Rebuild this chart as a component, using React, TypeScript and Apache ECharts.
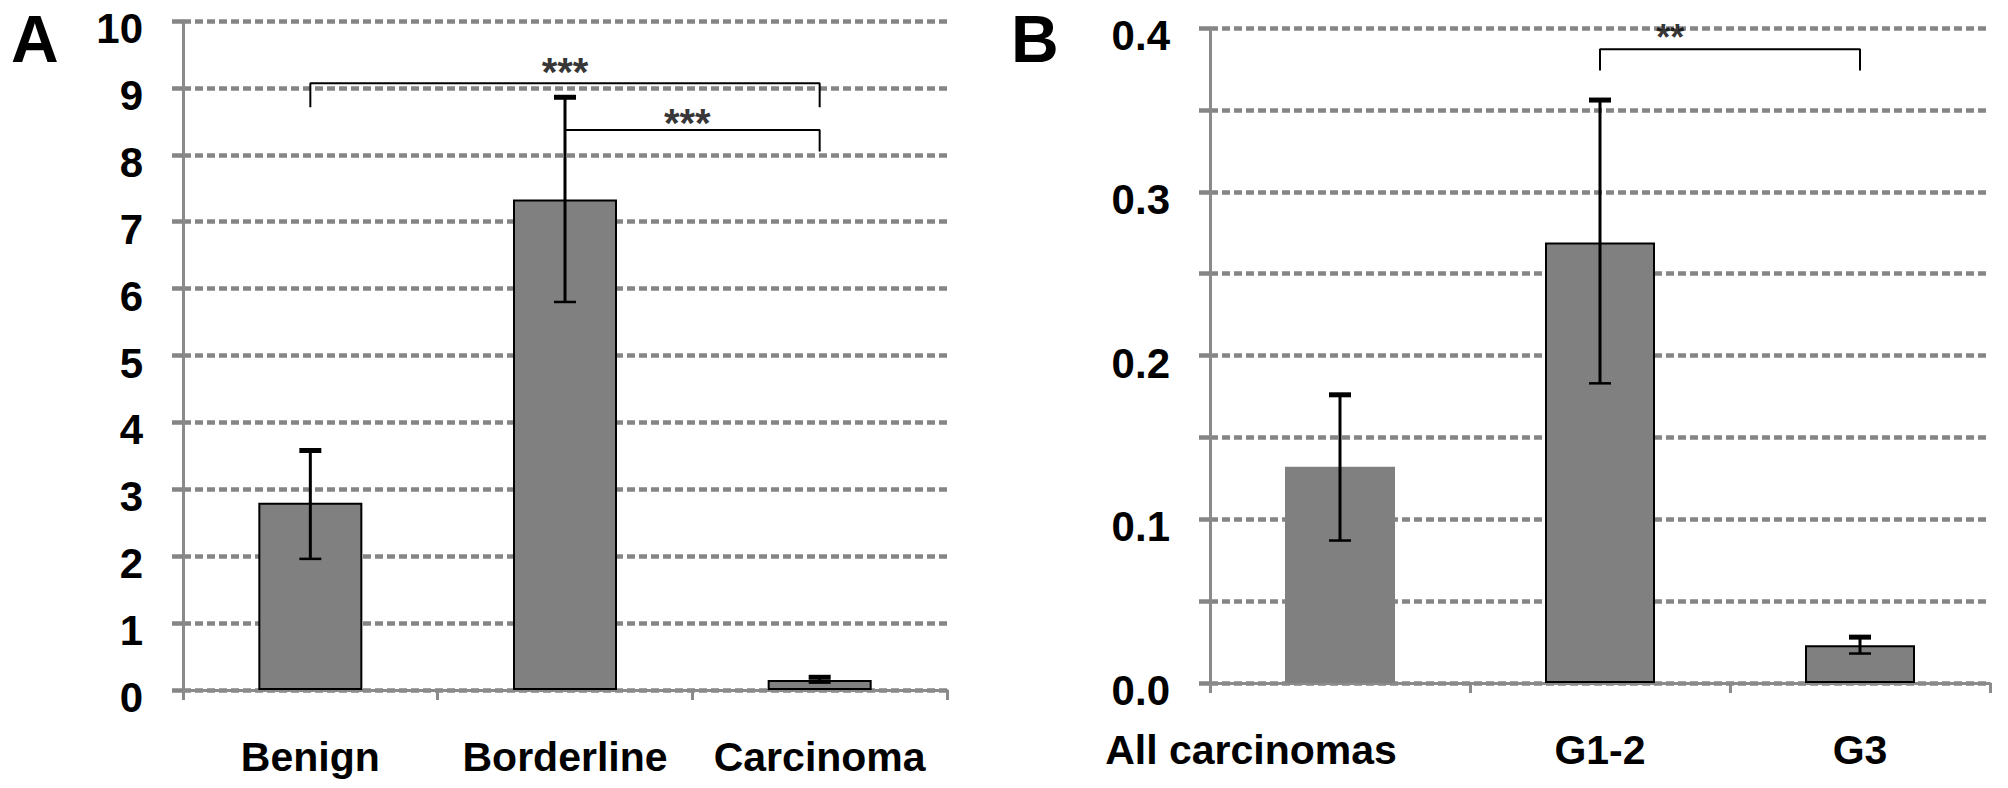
import React, { useEffect, useRef } from 'react';
import * as echarts from 'echarts';

// ---------- data ----------
const catsA = ['Benign', 'Borderline', 'Carcinoma'];
const meanA = [2.8, 7.33, 0.15];
const lowA = [1.96, 5.8, 0.11];
const highA = [3.58, 8.86, 0.19];
const yMinA = 0;
const yMaxA = 10;
const yStepA = 1;

const catsB = ['All carcinomas', 'G1-2', 'G3'];
const meanB = [0.132, 0.269, 0.023];
const lowB = [0.087, 0.183, 0.018];
const highB = [0.176, 0.356, 0.028];
const yMinB = 0;
const yMaxB = 0.4;
const yStepB = 0.05;
const bordersB = [false, true, true];

// significance brackets: [x, y] points on the hidden value x-axis (category index units)
const bracketA1 = [[0, 8.71], [0, 9.07], [2, 9.07], [2, 8.71]];
const bracketA2 = [[1, 8.37], [2, 8.37], [2, 8.05]];
const bracketB1 = [[1, 0.374], [1, 0.387], [2, 0.387], [2, 0.374]];
const starsA = [[1.0, 9.24, '***'], [1.48, 8.47, '***']];
const starsB = [[1.27, 0.394, '**']];

const FONT = '"Liberation Sans", Arial, Helvetica, sans-serif';
const GRID_COLOR = '#858585';
const AXIS_COLOR = '#8a8a8a';
const BAR_COLOR = '#808080';

function errRender(params: any, api: any) {
  const x = api.value(0);
  const lo = api.coord([x, api.value(1)]);
  const hi = api.coord([x, api.value(2)]);
  const hw = 11;
  return {
    type: 'group',
    children: [
      { type: 'line', shape: { x1: lo[0], y1: lo[1], x2: hi[0], y2: hi[1] }, style: { stroke: '#000', lineWidth: 3 } },
      { type: 'line', shape: { x1: hi[0] - hw, y1: hi[1], x2: hi[0] + hw, y2: hi[1] }, style: { stroke: '#000', lineWidth: 5 } },
      { type: 'line', shape: { x1: lo[0] - hw, y1: lo[1], x2: lo[0] + hw, y2: lo[1] }, style: { stroke: '#000', lineWidth: 2.5 } },
    ],
  };
}

function catAxis(gridIndex: number, cats: string[], rich?: any, fmt?: any) {
  return {
    type: 'category',
    gridIndex,
    data: cats,
    boundaryGap: true,
    axisLine: { show: true, onZero: false, lineStyle: { color: AXIS_COLOR, width: 3 } },
    axisTick: { show: true, length: 10, alignWithLabel: false, lineStyle: { color: AXIS_COLOR, width: 3 } },
    axisLabel: {
      show: true,
      color: '#000',
      fontFamily: FONT,
      fontWeight: 'bold',
      fontSize: 41,
      margin: 46,
      interval: 0,
      formatter: fmt,
      rich,
    },
    splitLine: { show: false },
  };
}

function hiddenX(gridIndex: number) {
  return { type: 'value', gridIndex, min: -0.5, max: 2.5, show: false, axisLine: { onZero: false }, splitLine: { show: false } };
}

const yRich = { v: { fontSize: 42, fontWeight: 'bold', fontFamily: FONT, color: '#000', padding: [15, 0, 0, 0] } };

function valAxis(gridIndex: number, min: number, max: number, interval: number, fmt: (v: number) => string) {
  return {
    type: 'value',
    gridIndex,
    min,
    max,
    interval,
    axisLine: { show: true, onZero: false, lineStyle: { color: AXIS_COLOR, width: 3 } },
    axisTick: { show: true, length: 11, lineStyle: { color: GRID_COLOR, width: 4.5 } },
    axisLabel: {
      show: true,
      color: '#000',
      fontFamily: FONT,
      fontWeight: 'bold',
      fontSize: 42,
      margin: 40,
      formatter: (v: number) => {
        const s = fmt(v);
        return s ? '{v|' + s + '}' : '';
      },
      rich: yRich,
    },
    splitLine: { show: true, lineStyle: { color: GRID_COLOR, width: 4.5, type: [8, 4] } },
  };
}

export default function App() {
  const ref = useRef<HTMLDivElement>(null);
  useEffect(() => {
    document.body.style.margin = '0';
    if (!ref.current) return;
    const chart = echarts.init(ref.current, null, { renderer: 'svg' });

    const barStyleA = { color: BAR_COLOR, borderColor: '#000', borderWidth: 2 };
    const lineStyle = { color: '#000', width: 2 };

    const option: any = {
      animation: false,
      backgroundColor: '#fff',
      textStyle: { fontFamily: FONT },
      grid: [
        { left: 183, top: 21, right: 1061, bottom: 98, containLabel: false },
        { left: 1210, top: 28, right: 18, bottom: 105, containLabel: false },
      ],
      xAxis: [
        catAxis(0, catsA),
        catAxis(1, catsB, { shift: { fontSize: 41, fontWeight: 'bold', fontFamily: FONT, color: '#000', padding: [0, 178, 0, 0] } },
          (v: string) => (v === catsB[0] ? '{shift|' + v + '}' : v)),
        hiddenX(0),
        hiddenX(1),
      ],
      yAxis: [
        valAxis(0, yMinA, yMaxA, yStepA, (v: number) => String(v)),
        valAxis(1, yMinB, yMaxB, yStepB, (v: number) => {
          const t = Math.round(v * 100);
          return t % 10 === 0 ? (t / 100).toFixed(1) : '';
        }),
      ],
      series: [
        {
          type: 'bar',
          xAxisIndex: 0,
          yAxisIndex: 0,
          barWidth: 104,
          data: meanA.map((v) => ({ value: v, itemStyle: barStyleA })),
          z: 2,
        },
        {
          type: 'bar',
          xAxisIndex: 1,
          yAxisIndex: 1,
          barWidth: 110,
          data: meanB.map((v, i) => ({
            value: v,
            itemStyle: bordersB[i] ? barStyleA : { color: BAR_COLOR, borderWidth: 0 },
          })),
          z: 2,
        },
        {
          type: 'custom',
          xAxisIndex: 0,
          yAxisIndex: 0,
          renderItem: errRender,
          encode: { x: 0, y: [1, 2] },
          data: catsA.map((_, i) => [i, lowA[i], highA[i]]),
          z: 4,
        },
        {
          type: 'custom',
          xAxisIndex: 1,
          yAxisIndex: 1,
          renderItem: errRender,
          encode: { x: 0, y: [1, 2] },
          data: catsB.map((_, i) => [i, lowB[i], highB[i]]),
          z: 4,
        },
        ...[bracketA1, bracketA2].map((b) => ({
          type: 'line',
          xAxisIndex: 2,
          yAxisIndex: 0,
          data: b,
          symbol: 'none',
          lineStyle,
          z: 5,
          silent: true,
        })),
        {
          type: 'line',
          xAxisIndex: 3,
          yAxisIndex: 1,
          data: bracketB1,
          symbol: 'none',
          lineStyle,
          z: 5,
          silent: true,
        },
        {
          type: 'scatter',
          xAxisIndex: 2,
          yAxisIndex: 0,
          symbolSize: 1,
          itemStyle: { color: 'rgba(0,0,0,0)' },
          data: starsA.map((s) => ({ value: [s[0], s[1]], name: s[2] })),
          label: { show: true, position: 'inside', formatter: (p: any) => p.name, color: '#000', fontSize: 40, fontWeight: 'bold', fontFamily: FONT },
          z: 6,
        },
        {
          type: 'scatter',
          xAxisIndex: 3,
          yAxisIndex: 1,
          symbolSize: 1,
          itemStyle: { color: 'rgba(0,0,0,0)' },
          data: starsB.map((s) => ({ value: [s[0], s[1]], name: s[2] })),
          label: { show: true, position: 'inside', formatter: (p: any) => p.name, color: '#000', fontSize: 36, fontWeight: 'bold', fontFamily: FONT },
          z: 6,
        },
      ],
      graphic: [
        { type: 'text', left: 11, top: 6, style: { text: 'A', fontSize: 66, fontWeight: 'bold', fontFamily: FONT, fill: '#000' } },
        { type: 'text', left: 1011, top: 6, style: { text: 'B', fontSize: 66, fontWeight: 'bold', fontFamily: FONT, fill: '#000' } },
      ],
    };
    chart.setOption(option);
    return () => chart.dispose();
  }, []);
  return <div ref={ref} style={{ width: 2008, height: 788 }} />;
}
